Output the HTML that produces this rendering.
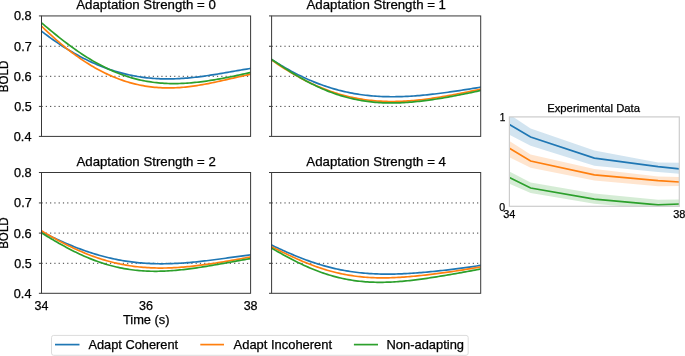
<!DOCTYPE html><html><head><meta charset="utf-8"><style>html,body{margin:0;padding:0;background:#fff;overflow:hidden}svg{display:block;will-change:transform}text{font-family:"Liberation Sans",sans-serif;fill:#000000;stroke:#000000;stroke-width:0.25}</style></head><body>
<svg width="685" height="356" viewBox="0 0 685 356">
<rect width="685" height="356" fill="#fff"/>
<defs>
<clipPath id="c1"><rect x="41.5" y="15.93" width="209.10" height="120.47"/></clipPath>
<clipPath id="c2"><rect x="271.6" y="15.93" width="209.10" height="120.47"/></clipPath>
<clipPath id="c3"><rect x="41.5" y="172.5" width="209.10" height="120.80"/></clipPath>
<clipPath id="c4"><rect x="271.6" y="172.5" width="209.10" height="120.80"/></clipPath>
<clipPath id="ci"><rect x="509.4" y="116.9" width="169.9" height="89.4"/></clipPath>
</defs>
<line x1="41.5" y1="106.40" x2="250.6" y2="106.40" stroke="#262626" stroke-width="0.9" stroke-dasharray="1.2 3.08" stroke-dashoffset="0"/>
<line x1="41.5" y1="76.30" x2="250.6" y2="76.30" stroke="#262626" stroke-width="0.9" stroke-dasharray="1.2 3.08" stroke-dashoffset="0"/>
<line x1="41.5" y1="46.25" x2="250.6" y2="46.25" stroke="#262626" stroke-width="0.9" stroke-dasharray="1.2 3.08" stroke-dashoffset="0"/>
<g clip-path="url(#c1)" fill="none" stroke-width="1.7" stroke-linecap="square">
<path d="M41.50,31.17 L43.42,32.65 L45.34,34.10 L47.26,35.54 L49.17,36.95 L51.09,38.33 L53.01,39.70 L54.93,41.04 L56.85,42.36 L58.77,43.66 L60.68,44.93 L62.60,46.19 L64.52,47.41 L66.44,48.62 L68.36,49.80 L70.28,50.96 L72.19,52.09 L74.11,53.20 L76.03,54.29 L77.95,55.35 L79.87,56.39 L81.79,57.40 L83.70,58.40 L85.62,59.36 L87.54,60.31 L89.46,61.23 L91.38,62.12 L93.30,62.99 L95.21,63.84 L97.13,64.66 L99.05,65.46 L100.97,66.24 L102.89,66.99 L104.81,67.71 L106.72,68.42 L108.64,69.10 L110.56,69.75 L112.48,70.38 L114.40,70.99 L116.32,71.58 L118.23,72.14 L120.15,72.67 L122.07,73.19 L123.99,73.68 L125.91,74.15 L127.83,74.59 L129.74,75.01 L131.66,75.41 L133.58,75.79 L135.50,76.14 L137.42,76.47 L139.34,76.78 L141.25,77.07 L143.17,77.33 L145.09,77.58 L147.01,77.80 L148.93,78.00 L150.85,78.18 L152.76,78.34 L154.68,78.48 L156.60,78.60 L158.52,78.70 L160.44,78.78 L162.36,78.84 L164.27,78.89 L166.19,78.91 L168.11,78.92 L170.03,78.90 L171.95,78.87 L173.87,78.82 L175.78,78.76 L177.70,78.68 L179.62,78.58 L181.54,78.47 L183.46,78.34 L185.38,78.20 L187.29,78.04 L189.21,77.87 L191.13,77.68 L193.05,77.48 L194.97,77.27 L196.89,77.05 L198.80,76.82 L200.72,76.57 L202.64,76.32 L204.56,76.05 L206.48,75.78 L208.40,75.50 L210.31,75.21 L212.23,74.91 L214.15,74.60 L216.07,74.29 L217.99,73.97 L219.91,73.65 L221.82,73.32 L223.74,73.00 L225.66,72.66 L227.58,72.33 L229.50,71.99 L231.42,71.66 L233.33,71.32 L235.25,70.99 L237.17,70.65 L239.09,70.32 L241.01,70.00 L242.93,69.67 L244.84,69.35 L246.76,69.04 L248.68,68.74 L250.60,68.44" stroke="#1f77b4"/>
<path d="M41.50,26.13 L43.42,28.00 L45.34,29.84 L47.26,31.65 L49.17,33.44 L51.09,35.20 L53.01,36.93 L54.93,38.64 L56.85,40.32 L58.77,41.97 L60.68,43.59 L62.60,45.19 L64.52,46.76 L66.44,48.29 L68.36,49.81 L70.28,51.29 L72.19,52.74 L74.11,54.17 L76.03,55.56 L77.95,56.93 L79.87,58.27 L81.79,59.58 L83.70,60.86 L85.62,62.11 L87.54,63.33 L89.46,64.52 L91.38,65.68 L93.30,66.81 L95.21,67.91 L97.13,68.98 L99.05,70.02 L100.97,71.03 L102.89,72.01 L104.81,72.96 L106.72,73.88 L108.64,74.77 L110.56,75.64 L112.48,76.47 L114.40,77.27 L116.32,78.04 L118.23,78.78 L120.15,79.49 L122.07,80.17 L123.99,80.82 L125.91,81.44 L127.83,82.03 L129.74,82.59 L131.66,83.12 L133.58,83.63 L135.50,84.10 L137.42,84.54 L139.34,84.96 L141.25,85.35 L143.17,85.71 L145.09,86.04 L147.01,86.34 L148.93,86.62 L150.85,86.87 L152.76,87.09 L154.68,87.29 L156.60,87.45 L158.52,87.60 L160.44,87.71 L162.36,87.80 L164.27,87.87 L166.19,87.91 L168.11,87.93 L170.03,87.92 L171.95,87.89 L173.87,87.84 L175.78,87.76 L177.70,87.66 L179.62,87.54 L181.54,87.40 L183.46,87.24 L185.38,87.06 L187.29,86.86 L189.21,86.64 L191.13,86.40 L193.05,86.14 L194.97,85.87 L196.89,85.58 L198.80,85.28 L200.72,84.96 L202.64,84.62 L204.56,84.28 L206.48,83.92 L208.40,83.55 L210.31,83.17 L212.23,82.77 L214.15,82.37 L216.07,81.96 L217.99,81.54 L219.91,81.12 L221.82,80.69 L223.74,80.26 L225.66,79.82 L227.58,79.38 L229.50,78.93 L231.42,78.49 L233.33,78.05 L235.25,77.61 L237.17,77.17 L239.09,76.73 L241.01,76.30 L242.93,75.88 L244.84,75.46 L246.76,75.06 L248.68,74.66 L250.60,74.27" stroke="#ff7f0e"/>
<path d="M41.50,22.78 L43.42,24.41 L45.34,26.03 L47.26,27.64 L49.17,29.25 L51.09,30.84 L53.01,32.41 L54.93,33.98 L56.85,35.53 L58.77,37.06 L60.68,38.58 L62.60,40.08 L64.52,41.56 L66.44,43.02 L68.36,44.46 L70.28,45.88 L72.19,47.28 L74.11,48.66 L76.03,50.02 L77.95,51.35 L79.87,52.66 L81.79,53.94 L83.70,55.20 L85.62,56.44 L87.54,57.64 L89.46,58.83 L91.38,59.98 L93.30,61.11 L95.21,62.22 L97.13,63.29 L99.05,64.34 L100.97,65.36 L102.89,66.35 L104.81,67.32 L106.72,68.26 L108.64,69.16 L110.56,70.04 L112.48,70.89 L114.40,71.71 L116.32,72.51 L118.23,73.27 L120.15,74.01 L122.07,74.71 L123.99,75.39 L125.91,76.04 L127.83,76.66 L129.74,77.26 L131.66,77.82 L133.58,78.36 L135.50,78.87 L137.42,79.35 L139.34,79.80 L141.25,80.23 L143.17,80.63 L145.09,81.00 L147.01,81.34 L148.93,81.66 L150.85,81.96 L152.76,82.23 L154.68,82.47 L156.60,82.69 L158.52,82.88 L160.44,83.05 L162.36,83.20 L164.27,83.32 L166.19,83.42 L168.11,83.50 L170.03,83.55 L171.95,83.59 L173.87,83.60 L175.78,83.59 L177.70,83.56 L179.62,83.51 L181.54,83.45 L183.46,83.36 L185.38,83.25 L187.29,83.13 L189.21,82.99 L191.13,82.83 L193.05,82.66 L194.97,82.47 L196.89,82.27 L198.80,82.05 L200.72,81.82 L202.64,81.57 L204.56,81.31 L206.48,81.04 L208.40,80.75 L210.31,80.46 L212.23,80.15 L214.15,79.83 L216.07,79.51 L217.99,79.17 L219.91,78.82 L221.82,78.47 L223.74,78.11 L225.66,77.74 L227.58,77.37 L229.50,76.98 L231.42,76.60 L233.33,76.21 L235.25,75.81 L237.17,75.41 L239.09,75.00 L241.01,74.60 L242.93,74.19 L244.84,73.77 L246.76,73.36 L248.68,72.95 L250.60,72.53" stroke="#2ca02c"/>
</g>
<line x1="38.9" y1="136.40" x2="41.5" y2="136.40" stroke="#383838" stroke-width="1.0"/>
<line x1="38.9" y1="106.40" x2="41.5" y2="106.40" stroke="#383838" stroke-width="1.0"/>
<line x1="38.9" y1="76.30" x2="41.5" y2="76.30" stroke="#383838" stroke-width="1.0"/>
<line x1="38.9" y1="46.25" x2="41.5" y2="46.25" stroke="#383838" stroke-width="1.0"/>
<line x1="38.9" y1="15.93" x2="41.5" y2="15.93" stroke="#383838" stroke-width="1.0"/>
<rect x="41.5" y="15.93" width="209.10" height="120.47" fill="none" stroke="#383838" stroke-width="1.0"/>
<line x1="271.6" y1="106.40" x2="480.7" y2="106.40" stroke="#262626" stroke-width="0.9" stroke-dasharray="1.2 3.08" stroke-dashoffset="0"/>
<line x1="271.6" y1="76.30" x2="480.7" y2="76.30" stroke="#262626" stroke-width="0.9" stroke-dasharray="1.2 3.08" stroke-dashoffset="0"/>
<line x1="271.6" y1="46.25" x2="480.7" y2="46.25" stroke="#262626" stroke-width="0.9" stroke-dasharray="1.2 3.08" stroke-dashoffset="0"/>
<g clip-path="url(#c2)" fill="none" stroke-width="1.7" stroke-linecap="square">
<path d="M271.60,59.47 L273.52,60.70 L275.44,61.91 L277.36,63.10 L279.27,64.27 L281.19,65.42 L283.11,66.56 L285.03,67.67 L286.95,68.77 L288.87,69.84 L290.78,70.89 L292.70,71.92 L294.62,72.94 L296.54,73.92 L298.46,74.89 L300.38,75.84 L302.29,76.77 L304.21,77.67 L306.13,78.55 L308.05,79.41 L309.97,80.25 L311.89,81.07 L313.80,81.86 L315.72,82.63 L317.64,83.38 L319.56,84.11 L321.48,84.82 L323.40,85.50 L325.31,86.16 L327.23,86.80 L329.15,87.42 L331.07,88.02 L332.99,88.60 L334.91,89.15 L336.82,89.68 L338.74,90.20 L340.66,90.69 L342.58,91.16 L344.50,91.61 L346.42,92.03 L348.33,92.44 L350.25,92.83 L352.17,93.20 L354.09,93.55 L356.01,93.88 L357.93,94.19 L359.84,94.48 L361.76,94.75 L363.68,95.00 L365.60,95.23 L367.52,95.45 L369.44,95.65 L371.35,95.83 L373.27,96.00 L375.19,96.14 L377.11,96.27 L379.03,96.39 L380.95,96.48 L382.86,96.57 L384.78,96.63 L386.70,96.68 L388.62,96.72 L390.54,96.74 L392.46,96.75 L394.37,96.74 L396.29,96.72 L398.21,96.69 L400.13,96.64 L402.05,96.58 L403.97,96.51 L405.88,96.43 L407.80,96.33 L409.72,96.23 L411.64,96.11 L413.56,95.98 L415.48,95.84 L417.39,95.70 L419.31,95.54 L421.23,95.37 L423.15,95.20 L425.07,95.01 L426.99,94.82 L428.90,94.62 L430.82,94.41 L432.74,94.19 L434.66,93.97 L436.58,93.74 L438.50,93.50 L440.41,93.26 L442.33,93.01 L444.25,92.76 L446.17,92.50 L448.09,92.23 L450.01,91.96 L451.92,91.69 L453.84,91.41 L455.76,91.13 L457.68,90.84 L459.60,90.55 L461.52,90.26 L463.43,89.96 L465.35,89.67 L467.27,89.37 L469.19,89.06 L471.11,88.76 L473.03,88.45 L474.94,88.14 L476.86,87.83 L478.78,87.51 L480.70,87.20" stroke="#1f77b4"/>
<path d="M271.60,59.99 L273.52,61.32 L275.44,62.63 L277.36,63.93 L279.27,65.20 L281.19,66.46 L283.11,67.70 L285.03,68.91 L286.95,70.11 L288.87,71.28 L290.78,72.44 L292.70,73.57 L294.62,74.68 L296.54,75.77 L298.46,76.84 L300.38,77.88 L302.29,78.91 L304.21,79.91 L306.13,80.89 L308.05,81.84 L309.97,82.78 L311.89,83.68 L313.80,84.57 L315.72,85.43 L317.64,86.27 L319.56,87.09 L321.48,87.88 L323.40,88.65 L325.31,89.40 L327.23,90.12 L329.15,90.82 L331.07,91.50 L332.99,92.15 L334.91,92.78 L336.82,93.39 L338.74,93.97 L340.66,94.53 L342.58,95.07 L344.50,95.58 L346.42,96.07 L348.33,96.54 L350.25,96.99 L352.17,97.41 L354.09,97.82 L356.01,98.20 L357.93,98.55 L359.84,98.89 L361.76,99.20 L363.68,99.50 L365.60,99.77 L367.52,100.02 L369.44,100.25 L371.35,100.46 L373.27,100.65 L375.19,100.83 L377.11,100.98 L379.03,101.11 L380.95,101.22 L382.86,101.31 L384.78,101.39 L386.70,101.45 L388.62,101.49 L390.54,101.51 L392.46,101.51 L394.37,101.50 L396.29,101.47 L398.21,101.42 L400.13,101.36 L402.05,101.29 L403.97,101.19 L405.88,101.08 L407.80,100.96 L409.72,100.83 L411.64,100.68 L413.56,100.51 L415.48,100.33 L417.39,100.15 L419.31,99.94 L421.23,99.73 L423.15,99.50 L425.07,99.27 L426.99,99.02 L428.90,98.76 L430.82,98.49 L432.74,98.21 L434.66,97.92 L436.58,97.63 L438.50,97.32 L440.41,97.01 L442.33,96.68 L444.25,96.35 L446.17,96.02 L448.09,95.68 L450.01,95.33 L451.92,94.97 L453.84,94.61 L455.76,94.24 L457.68,93.87 L459.60,93.50 L461.52,93.12 L463.43,92.74 L465.35,92.35 L467.27,91.96 L469.19,91.57 L471.11,91.18 L473.03,90.79 L474.94,90.39 L476.86,89.99 L478.78,89.59 L480.70,89.20" stroke="#ff7f0e"/>
<path d="M271.60,59.38 L273.52,60.69 L275.44,62.00 L277.36,63.29 L279.27,64.57 L281.19,65.84 L283.11,67.10 L285.03,68.35 L286.95,69.58 L288.87,70.79 L290.78,71.99 L292.70,73.17 L294.62,74.34 L296.54,75.48 L298.46,76.61 L300.38,77.71 L302.29,78.80 L304.21,79.86 L306.13,80.90 L308.05,81.92 L309.97,82.92 L311.89,83.90 L313.80,84.85 L315.72,85.78 L317.64,86.68 L319.56,87.56 L321.48,88.42 L323.40,89.25 L325.31,90.05 L327.23,90.84 L329.15,91.59 L331.07,92.32 L332.99,93.03 L334.91,93.71 L336.82,94.36 L338.74,94.99 L340.66,95.60 L342.58,96.18 L344.50,96.73 L346.42,97.26 L348.33,97.76 L350.25,98.24 L352.17,98.69 L354.09,99.12 L356.01,99.53 L357.93,99.91 L359.84,100.26 L361.76,100.60 L363.68,100.91 L365.60,101.19 L367.52,101.46 L369.44,101.70 L371.35,101.92 L373.27,102.12 L375.19,102.29 L377.11,102.45 L379.03,102.58 L380.95,102.69 L382.86,102.79 L384.78,102.86 L386.70,102.92 L388.62,102.95 L390.54,102.97 L392.46,102.97 L394.37,102.95 L396.29,102.91 L398.21,102.86 L400.13,102.79 L402.05,102.71 L403.97,102.61 L405.88,102.50 L407.80,102.37 L409.72,102.22 L411.64,102.07 L413.56,101.90 L415.48,101.71 L417.39,101.52 L419.31,101.31 L421.23,101.10 L423.15,100.87 L425.07,100.63 L426.99,100.38 L428.90,100.12 L430.82,99.85 L432.74,99.57 L434.66,99.28 L436.58,98.98 L438.50,98.68 L440.41,98.37 L442.33,98.05 L444.25,97.72 L446.17,97.39 L448.09,97.05 L450.01,96.71 L451.92,96.36 L453.84,96.00 L455.76,95.64 L457.68,95.27 L459.60,94.89 L461.52,94.52 L463.43,94.13 L465.35,93.75 L467.27,93.35 L469.19,92.96 L471.11,92.55 L473.03,92.15 L474.94,91.74 L476.86,91.32 L478.78,90.90 L480.70,90.48" stroke="#2ca02c"/>
</g>
<line x1="269.0" y1="136.40" x2="271.6" y2="136.40" stroke="#383838" stroke-width="1.0"/>
<line x1="269.0" y1="106.40" x2="271.6" y2="106.40" stroke="#383838" stroke-width="1.0"/>
<line x1="269.0" y1="76.30" x2="271.6" y2="76.30" stroke="#383838" stroke-width="1.0"/>
<line x1="269.0" y1="46.25" x2="271.6" y2="46.25" stroke="#383838" stroke-width="1.0"/>
<line x1="269.0" y1="15.93" x2="271.6" y2="15.93" stroke="#383838" stroke-width="1.0"/>
<rect x="271.6" y="15.93" width="209.10" height="120.47" fill="none" stroke="#383838" stroke-width="1.0"/>
<line x1="41.5" y1="263.30" x2="250.6" y2="263.30" stroke="#262626" stroke-width="0.9" stroke-dasharray="1.2 3.08" stroke-dashoffset="0"/>
<line x1="41.5" y1="233.10" x2="250.6" y2="233.10" stroke="#262626" stroke-width="0.9" stroke-dasharray="1.2 3.08" stroke-dashoffset="0"/>
<line x1="41.5" y1="202.95" x2="250.6" y2="202.95" stroke="#262626" stroke-width="0.9" stroke-dasharray="1.2 3.08" stroke-dashoffset="0"/>
<g clip-path="url(#c3)" fill="none" stroke-width="1.7" stroke-linecap="square">
<path d="M41.50,231.78 L43.42,232.74 L45.34,233.69 L47.26,234.64 L49.17,235.57 L51.09,236.50 L53.01,237.41 L54.93,238.32 L56.85,239.21 L58.77,240.09 L60.68,240.96 L62.60,241.82 L64.52,242.66 L66.44,243.49 L68.36,244.31 L70.28,245.11 L72.19,245.90 L74.11,246.67 L76.03,247.42 L77.95,248.17 L79.87,248.89 L81.79,249.60 L83.70,250.29 L85.62,250.97 L87.54,251.63 L89.46,252.27 L91.38,252.90 L93.30,253.50 L95.21,254.09 L97.13,254.67 L99.05,255.22 L100.97,255.76 L102.89,256.28 L104.81,256.78 L106.72,257.27 L108.64,257.73 L110.56,258.18 L112.48,258.61 L114.40,259.02 L116.32,259.42 L118.23,259.80 L120.15,260.15 L122.07,260.49 L123.99,260.82 L125.91,261.12 L127.83,261.41 L129.74,261.68 L131.66,261.94 L133.58,262.17 L135.50,262.39 L137.42,262.59 L139.34,262.78 L141.25,262.95 L143.17,263.10 L145.09,263.24 L147.01,263.36 L148.93,263.47 L150.85,263.55 L152.76,263.63 L154.68,263.69 L156.60,263.73 L158.52,263.76 L160.44,263.78 L162.36,263.78 L164.27,263.77 L166.19,263.75 L168.11,263.71 L170.03,263.66 L171.95,263.60 L173.87,263.52 L175.78,263.43 L177.70,263.34 L179.62,263.23 L181.54,263.11 L183.46,262.98 L185.38,262.84 L187.29,262.69 L189.21,262.53 L191.13,262.36 L193.05,262.18 L194.97,262.00 L196.89,261.80 L198.80,261.60 L200.72,261.39 L202.64,261.18 L204.56,260.96 L206.48,260.73 L208.40,260.50 L210.31,260.26 L212.23,260.02 L214.15,259.77 L216.07,259.52 L217.99,259.27 L219.91,259.01 L221.82,258.75 L223.74,258.49 L225.66,258.23 L227.58,257.96 L229.50,257.69 L231.42,257.43 L233.33,257.16 L235.25,256.89 L237.17,256.63 L239.09,256.36 L241.01,256.09 L242.93,255.83 L244.84,255.57 L246.76,255.31 L248.68,255.06 L250.60,254.80" stroke="#1f77b4"/>
<path d="M41.50,230.85 L43.42,231.99 L45.34,233.12 L47.26,234.24 L49.17,235.34 L51.09,236.44 L53.01,237.52 L54.93,238.58 L56.85,239.64 L58.77,240.68 L60.68,241.70 L62.60,242.71 L64.52,243.70 L66.44,244.68 L68.36,245.64 L70.28,246.58 L72.19,247.50 L74.11,248.40 L76.03,249.29 L77.95,250.16 L79.87,251.00 L81.79,251.83 L83.70,252.64 L85.62,253.43 L87.54,254.19 L89.46,254.94 L91.38,255.67 L93.30,256.37 L95.21,257.06 L97.13,257.72 L99.05,258.36 L100.97,258.98 L102.89,259.58 L104.81,260.16 L106.72,260.71 L108.64,261.25 L110.56,261.76 L112.48,262.26 L114.40,262.73 L116.32,263.18 L118.23,263.61 L120.15,264.01 L122.07,264.40 L123.99,264.77 L125.91,265.11 L127.83,265.44 L129.74,265.74 L131.66,266.03 L133.58,266.29 L135.50,266.54 L137.42,266.76 L139.34,266.97 L141.25,267.15 L143.17,267.32 L145.09,267.47 L147.01,267.60 L148.93,267.72 L150.85,267.82 L152.76,267.89 L154.68,267.96 L156.60,268.00 L158.52,268.03 L160.44,268.04 L162.36,268.04 L164.27,268.02 L166.19,267.99 L168.11,267.94 L170.03,267.88 L171.95,267.80 L173.87,267.71 L175.78,267.61 L177.70,267.49 L179.62,267.36 L181.54,267.22 L183.46,267.07 L185.38,266.90 L187.29,266.72 L189.21,266.54 L191.13,266.34 L193.05,266.13 L194.97,265.92 L196.89,265.69 L198.80,265.46 L200.72,265.21 L202.64,264.96 L204.56,264.70 L206.48,264.44 L208.40,264.16 L210.31,263.88 L212.23,263.60 L214.15,263.30 L216.07,263.00 L217.99,262.70 L219.91,262.39 L221.82,262.08 L223.74,261.76 L225.66,261.43 L227.58,261.11 L229.50,260.78 L231.42,260.44 L233.33,260.11 L235.25,259.76 L237.17,259.42 L239.09,259.08 L241.01,258.73 L242.93,258.38 L244.84,258.03 L246.76,257.67 L248.68,257.32 L250.60,256.96" stroke="#ff7f0e"/>
<path d="M41.50,232.92 L43.42,234.09 L45.34,235.25 L47.26,236.41 L49.17,237.56 L51.09,238.71 L53.01,239.84 L54.93,240.96 L56.85,242.07 L58.77,243.17 L60.68,244.25 L62.60,245.32 L64.52,246.37 L66.44,247.41 L68.36,248.43 L70.28,249.44 L72.19,250.42 L74.11,251.39 L76.03,252.33 L77.95,253.26 L79.87,254.16 L81.79,255.05 L83.70,255.91 L85.62,256.75 L87.54,257.57 L89.46,258.36 L91.38,259.13 L93.30,259.88 L95.21,260.61 L97.13,261.31 L99.05,261.99 L100.97,262.64 L102.89,263.27 L104.81,263.87 L106.72,264.45 L108.64,265.00 L110.56,265.53 L112.48,266.04 L114.40,266.52 L116.32,266.98 L118.23,267.41 L120.15,267.82 L122.07,268.20 L123.99,268.56 L125.91,268.90 L127.83,269.21 L129.74,269.50 L131.66,269.77 L133.58,270.01 L135.50,270.23 L137.42,270.43 L139.34,270.61 L141.25,270.77 L143.17,270.90 L145.09,271.01 L147.01,271.11 L148.93,271.18 L150.85,271.23 L152.76,271.27 L154.68,271.28 L156.60,271.28 L158.52,271.26 L160.44,271.22 L162.36,271.16 L164.27,271.09 L166.19,271.00 L168.11,270.89 L170.03,270.77 L171.95,270.64 L173.87,270.49 L175.78,270.33 L177.70,270.15 L179.62,269.97 L181.54,269.77 L183.46,269.55 L185.38,269.33 L187.29,269.10 L189.21,268.86 L191.13,268.60 L193.05,268.34 L194.97,268.07 L196.89,267.79 L198.80,267.51 L200.72,267.22 L202.64,266.92 L204.56,266.61 L206.48,266.30 L208.40,265.99 L210.31,265.67 L212.23,265.34 L214.15,265.02 L216.07,264.68 L217.99,264.35 L219.91,264.01 L221.82,263.68 L223.74,263.34 L225.66,263.00 L227.58,262.65 L229.50,262.31 L231.42,261.97 L233.33,261.63 L235.25,261.29 L237.17,260.94 L239.09,260.60 L241.01,260.26 L242.93,259.93 L244.84,259.59 L246.76,259.26 L248.68,258.92 L250.60,258.59" stroke="#2ca02c"/>
</g>
<line x1="38.9" y1="293.30" x2="41.5" y2="293.30" stroke="#383838" stroke-width="1.0"/>
<line x1="38.9" y1="263.30" x2="41.5" y2="263.30" stroke="#383838" stroke-width="1.0"/>
<line x1="38.9" y1="233.10" x2="41.5" y2="233.10" stroke="#383838" stroke-width="1.0"/>
<line x1="38.9" y1="202.95" x2="41.5" y2="202.95" stroke="#383838" stroke-width="1.0"/>
<line x1="38.9" y1="172.50" x2="41.5" y2="172.50" stroke="#383838" stroke-width="1.0"/>
<rect x="41.5" y="172.5" width="209.10" height="120.80" fill="none" stroke="#383838" stroke-width="1.0"/>
<line x1="271.6" y1="263.30" x2="480.7" y2="263.30" stroke="#262626" stroke-width="0.9" stroke-dasharray="1.2 3.08" stroke-dashoffset="0"/>
<line x1="271.6" y1="233.10" x2="480.7" y2="233.10" stroke="#262626" stroke-width="0.9" stroke-dasharray="1.2 3.08" stroke-dashoffset="0"/>
<line x1="271.6" y1="202.95" x2="480.7" y2="202.95" stroke="#262626" stroke-width="0.9" stroke-dasharray="1.2 3.08" stroke-dashoffset="0"/>
<g clip-path="url(#c4)" fill="none" stroke-width="1.7" stroke-linecap="square">
<path d="M271.60,245.14 L273.52,246.04 L275.44,246.94 L277.36,247.83 L279.27,248.72 L281.19,249.59 L283.11,250.46 L285.03,251.32 L286.95,252.17 L288.87,253.01 L290.78,253.84 L292.70,254.65 L294.62,255.46 L296.54,256.24 L298.46,257.02 L300.38,257.78 L302.29,258.52 L304.21,259.25 L306.13,259.97 L308.05,260.66 L309.97,261.34 L311.89,262.01 L313.80,262.66 L315.72,263.28 L317.64,263.90 L319.56,264.49 L321.48,265.06 L323.40,265.62 L325.31,266.16 L327.23,266.68 L329.15,267.18 L331.07,267.66 L332.99,268.13 L334.91,268.57 L336.82,269.00 L338.74,269.41 L340.66,269.80 L342.58,270.17 L344.50,270.53 L346.42,270.86 L348.33,271.18 L350.25,271.48 L352.17,271.76 L354.09,272.03 L356.01,272.27 L357.93,272.50 L359.84,272.72 L361.76,272.91 L363.68,273.10 L365.60,273.26 L367.52,273.41 L369.44,273.54 L371.35,273.66 L373.27,273.77 L375.19,273.86 L377.11,273.93 L379.03,273.99 L380.95,274.04 L382.86,274.08 L384.78,274.10 L386.70,274.11 L388.62,274.11 L390.54,274.09 L392.46,274.07 L394.37,274.03 L396.29,273.98 L398.21,273.92 L400.13,273.86 L402.05,273.78 L403.97,273.69 L405.88,273.60 L407.80,273.50 L409.72,273.38 L411.64,273.26 L413.56,273.14 L415.48,273.00 L417.39,272.86 L419.31,272.71 L421.23,272.56 L423.15,272.39 L425.07,272.23 L426.99,272.05 L428.90,271.88 L430.82,271.69 L432.74,271.50 L434.66,271.31 L436.58,271.11 L438.50,270.91 L440.41,270.70 L442.33,270.49 L444.25,270.28 L446.17,270.06 L448.09,269.83 L450.01,269.61 L451.92,269.38 L453.84,269.14 L455.76,268.90 L457.68,268.66 L459.60,268.41 L461.52,268.16 L463.43,267.90 L465.35,267.64 L467.27,267.38 L469.19,267.11 L471.11,266.84 L473.03,266.56 L474.94,266.27 L476.86,265.98 L478.78,265.68 L480.70,265.37" stroke="#1f77b4"/>
<path d="M271.60,246.78 L273.52,247.72 L275.44,248.66 L277.36,249.61 L279.27,250.54 L281.19,251.48 L283.11,252.41 L285.03,253.33 L286.95,254.25 L288.87,255.16 L290.78,256.06 L292.70,256.94 L294.62,257.82 L296.54,258.68 L298.46,259.53 L300.38,260.37 L302.29,261.19 L304.21,261.99 L306.13,262.78 L308.05,263.55 L309.97,264.30 L311.89,265.03 L313.80,265.75 L315.72,266.45 L317.64,267.12 L319.56,267.78 L321.48,268.41 L323.40,269.03 L325.31,269.63 L327.23,270.20 L329.15,270.75 L331.07,271.28 L332.99,271.79 L334.91,272.28 L336.82,272.75 L338.74,273.19 L340.66,273.61 L342.58,274.02 L344.50,274.40 L346.42,274.76 L348.33,275.10 L350.25,275.41 L352.17,275.71 L354.09,275.99 L356.01,276.24 L357.93,276.48 L359.84,276.69 L361.76,276.89 L363.68,277.07 L365.60,277.23 L367.52,277.37 L369.44,277.49 L371.35,277.59 L373.27,277.68 L375.19,277.75 L377.11,277.80 L379.03,277.84 L380.95,277.86 L382.86,277.87 L384.78,277.86 L386.70,277.84 L388.62,277.80 L390.54,277.75 L392.46,277.68 L394.37,277.61 L396.29,277.52 L398.21,277.42 L400.13,277.31 L402.05,277.19 L403.97,277.06 L405.88,276.92 L407.80,276.76 L409.72,276.60 L411.64,276.44 L413.56,276.26 L415.48,276.08 L417.39,275.88 L419.31,275.69 L421.23,275.48 L423.15,275.27 L425.07,275.05 L426.99,274.83 L428.90,274.60 L430.82,274.37 L432.74,274.13 L434.66,273.89 L436.58,273.64 L438.50,273.39 L440.41,273.14 L442.33,272.88 L444.25,272.62 L446.17,272.35 L448.09,272.08 L450.01,271.81 L451.92,271.54 L453.84,271.26 L455.76,270.98 L457.68,270.69 L459.60,270.40 L461.52,270.11 L463.43,269.81 L465.35,269.51 L467.27,269.21 L469.19,268.90 L471.11,268.58 L473.03,268.26 L474.94,267.93 L476.86,267.60 L478.78,267.26 L480.70,266.91" stroke="#ff7f0e"/>
<path d="M271.60,248.18 L273.52,249.27 L275.44,250.37 L277.36,251.45 L279.27,252.53 L281.19,253.60 L283.11,254.66 L285.03,255.71 L286.95,256.75 L288.87,257.78 L290.78,258.79 L292.70,259.78 L294.62,260.76 L296.54,261.73 L298.46,262.67 L300.38,263.60 L302.29,264.51 L304.21,265.40 L306.13,266.27 L308.05,267.12 L309.97,267.94 L311.89,268.75 L313.80,269.53 L315.72,270.29 L317.64,271.03 L319.56,271.75 L321.48,272.44 L323.40,273.11 L325.31,273.75 L327.23,274.37 L329.15,274.97 L331.07,275.54 L332.99,276.09 L334.91,276.61 L336.82,277.11 L338.74,277.59 L340.66,278.04 L342.58,278.47 L344.50,278.87 L346.42,279.25 L348.33,279.61 L350.25,279.94 L352.17,280.25 L354.09,280.54 L356.01,280.80 L357.93,281.04 L359.84,281.26 L361.76,281.46 L363.68,281.63 L365.60,281.79 L367.52,281.92 L369.44,282.04 L371.35,282.13 L373.27,282.21 L375.19,282.26 L377.11,282.30 L379.03,282.32 L380.95,282.32 L382.86,282.30 L384.78,282.27 L386.70,282.22 L388.62,282.16 L390.54,282.08 L392.46,281.98 L394.37,281.87 L396.29,281.75 L398.21,281.61 L400.13,281.46 L402.05,281.30 L403.97,281.12 L405.88,280.94 L407.80,280.74 L409.72,280.54 L411.64,280.32 L413.56,280.09 L415.48,279.86 L417.39,279.62 L419.31,279.37 L421.23,279.11 L423.15,278.84 L425.07,278.57 L426.99,278.29 L428.90,278.00 L430.82,277.71 L432.74,277.42 L434.66,277.12 L436.58,276.81 L438.50,276.50 L440.41,276.19 L442.33,275.88 L444.25,275.56 L446.17,275.23 L448.09,274.91 L450.01,274.58 L451.92,274.25 L453.84,273.91 L455.76,273.58 L457.68,273.24 L459.60,272.90 L461.52,272.56 L463.43,272.21 L465.35,271.86 L467.27,271.52 L469.19,271.16 L471.11,270.81 L473.03,270.45 L474.94,270.09 L476.86,269.73 L478.78,269.37 L480.70,269.00" stroke="#2ca02c"/>
</g>
<line x1="269.0" y1="293.30" x2="271.6" y2="293.30" stroke="#383838" stroke-width="1.0"/>
<line x1="269.0" y1="263.30" x2="271.6" y2="263.30" stroke="#383838" stroke-width="1.0"/>
<line x1="269.0" y1="233.10" x2="271.6" y2="233.10" stroke="#383838" stroke-width="1.0"/>
<line x1="269.0" y1="202.95" x2="271.6" y2="202.95" stroke="#383838" stroke-width="1.0"/>
<line x1="269.0" y1="172.50" x2="271.6" y2="172.50" stroke="#383838" stroke-width="1.0"/>
<rect x="271.6" y="172.5" width="209.10" height="120.80" fill="none" stroke="#383838" stroke-width="1.0"/>
<text x="76.28" y="8.80" font-size="12.15" textLength="139.63" lengthAdjust="spacingAndGlyphs">Adaptation Strength = 0</text>
<text x="306.53" y="8.80" font-size="12.15" textLength="139.47" lengthAdjust="spacingAndGlyphs">Adaptation Strength = 1</text>
<text x="76.47" y="165.70" font-size="12.15" textLength="139.39" lengthAdjust="spacingAndGlyphs">Adaptation Strength = 2</text>
<text x="306.32" y="165.70" font-size="12.15" textLength="139.62" lengthAdjust="spacingAndGlyphs">Adaptation Strength = 4</text>
<text x="13.80" y="140.80" font-size="12.15" textLength="17.67" lengthAdjust="spacingAndGlyphs">0.4</text>
<text x="14.16" y="110.80" font-size="12.15" textLength="17.47" lengthAdjust="spacingAndGlyphs">0.5</text>
<text x="13.87" y="80.70" font-size="12.15" textLength="17.79" lengthAdjust="spacingAndGlyphs">0.6</text>
<text x="14.13" y="50.65" font-size="12.15" textLength="17.61" lengthAdjust="spacingAndGlyphs">0.7</text>
<text x="13.93" y="20.33" font-size="12.15" textLength="17.72" lengthAdjust="spacingAndGlyphs">0.8</text>
<text transform="translate(8.40,91.20) rotate(-90)" x="-0.95" y="0" font-size="12.15" textLength="31.58" lengthAdjust="spacingAndGlyphs">BOLD</text>
<text x="13.80" y="297.70" font-size="12.15" textLength="17.67" lengthAdjust="spacingAndGlyphs">0.4</text>
<text x="14.16" y="267.70" font-size="12.15" textLength="17.47" lengthAdjust="spacingAndGlyphs">0.5</text>
<text x="13.87" y="237.50" font-size="12.15" textLength="17.79" lengthAdjust="spacingAndGlyphs">0.6</text>
<text x="14.13" y="207.35" font-size="12.15" textLength="17.61" lengthAdjust="spacingAndGlyphs">0.7</text>
<text x="13.93" y="176.90" font-size="12.15" textLength="17.72" lengthAdjust="spacingAndGlyphs">0.8</text>
<text transform="translate(8.40,247.93) rotate(-90)" x="-0.95" y="0" font-size="12.15" textLength="31.58" lengthAdjust="spacingAndGlyphs">BOLD</text>
<text x="34.50" y="310.00" font-size="12.15" textLength="13.89" lengthAdjust="spacingAndGlyphs">34</text>
<text x="139.08" y="310.00" font-size="12.15" textLength="14.01" lengthAdjust="spacingAndGlyphs">36</text>
<text x="243.67" y="310.00" font-size="12.15" textLength="13.93" lengthAdjust="spacingAndGlyphs">38</text>
<text x="122.91" y="323.70" font-size="12.15" textLength="46.69" lengthAdjust="spacingAndGlyphs">Time (s)</text>
<g clip-path="url(#ci)">
<polygon points="509.4,114.4 530.6,128.4 594.35,150.6 658.1,162.4 679.3,162.8 679.3,173.7 658.1,171.9 594.35,165.7 530.6,145.7 509.4,134.8" fill="#1f77b4" fill-opacity="0.2"/>
<polygon points="509.4,141 530.6,154.5 594.35,169 658.1,176.6 679.3,176.9 679.3,186.1 658.1,186.3 594.35,180.5 530.6,167.7 509.4,157.2" fill="#ff7f0e" fill-opacity="0.2"/>
<polygon points="509.4,171.6 530.6,182.4 594.35,193.5 658.1,199.7 679.3,199.5 679.3,209.5 658.1,209.5 594.35,203.7 530.6,193 509.4,183.7" fill="#2ca02c" fill-opacity="0.2"/>
<polyline points="509.4,124.6 530.6,137 594.35,158.1 658.1,166.6 679.3,168.8" fill="none" stroke="#1f77b4" stroke-width="1.7"/>
<polyline points="509.4,148.3 530.6,161 594.35,174.9 658.1,180.6 679.3,182" fill="none" stroke="#ff7f0e" stroke-width="1.7"/>
<polyline points="509.4,177.5 530.6,188 594.35,199.2 658.1,204.8 679.3,204" fill="none" stroke="#2ca02c" stroke-width="1.7"/>
</g>
<rect x="509.4" y="116.9" width="169.9" height="89.4" fill="none" stroke="#cccccc" stroke-width="1.2"/>
<text x="547.20" y="111.90" font-size="10.6" textLength="92.78" lengthAdjust="spacingAndGlyphs">Experimental Data</text>
<text x="499.69" y="120.60" font-size="10.6" textLength="5.60" lengthAdjust="spacingAndGlyphs">1</text>
<text x="499.35" y="210.50" font-size="10.6" textLength="5.86" lengthAdjust="spacingAndGlyphs">0</text>
<text x="503.29" y="218.00" font-size="10.6" textLength="12.13" lengthAdjust="spacingAndGlyphs">34</text>
<text x="673.24" y="218.00" font-size="10.6" textLength="12.17" lengthAdjust="spacingAndGlyphs">38</text>
<rect x="51.5" y="335.4" width="416.7" height="19.9" rx="2.2" fill="#fff" stroke="#dcdcdc" stroke-width="1.0"/>
<line x1="55" y1="344.6" x2="79.5" y2="344.6" stroke="#1f77b4" stroke-width="1.7"/>
<text x="88.47" y="348.55" font-size="12.15" textLength="89.61" lengthAdjust="spacingAndGlyphs">Adapt Coherent</text>
<line x1="200.3" y1="344.6" x2="224" y2="344.6" stroke="#ff7f0e" stroke-width="1.7"/>
<text x="233.57" y="348.55" font-size="12.15" textLength="98.54" lengthAdjust="spacingAndGlyphs">Adapt Incoherent</text>
<line x1="353.9" y1="344.6" x2="378" y2="344.6" stroke="#2ca02c" stroke-width="1.7"/>
<text x="386.54" y="348.55" font-size="12.15" textLength="77.45" lengthAdjust="spacingAndGlyphs">Non-adapting</text>
</svg></body></html>
